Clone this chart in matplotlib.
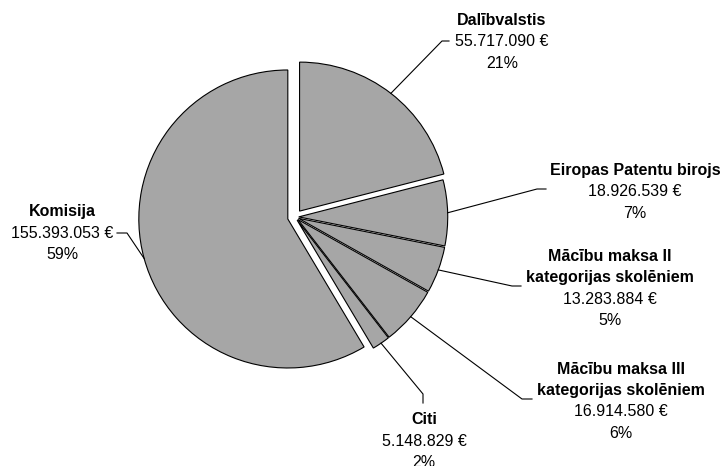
import numpy as np
import matplotlib
matplotlib.use('Agg')
import matplotlib.pyplot as plt

plt.rcParams['font.family'] = ['Liberation Sans', 'DejaVu Sans']

# data
names = ['Dalībvalstis', 'Eiropas Patentu birojs',
         'Mācību maksa II\nkategorijas skolēniem',
         'Mācību maksa III\nkategorijas skolēniem',
         'Citi', 'Komisija']
values = [55717090, 18926539, 13283884, 16914580, 5148829, 155393053]
explode = [0.05, 0.025, 0.025, 0.025, 0.025, 0.05]

# layout (pixel coords, y from top)
W, H = 724, 466
cx, cy, R = 295, 217, 149
# label anchor: centre x, y of the value line
lab_xy = [(502, 42), (635, 192), (610, 299), (621, 412), (424, 441), (62, 233)]
# leader elbow and end points
elbow = [(442, 41), (537, 189), (512, 286), (522, 399), (423, 394), (127, 233)]
lend = [(449, 41), (546, 189), (521, 286), (532, 399), (423, 403), (117, 233)]
step = 21.3
fs = 11.5

fig = plt.figure(figsize=(W / 100, H / 100), dpi=100)
ax = fig.add_axes([0, 0, 1, 1])

# pie explode is in data units, so scale by the radius
ax.pie(values, explode=[e * R for e in explode], startangle=90,
       counterclock=False, center=(cx, H - cy), radius=R,
       colors=['#a6a6a6'] * len(values),
       wedgeprops=dict(edgecolor='black', linewidth=0.8),
       frame=True)
ax.set_xlim(0, W)
ax.set_ylim(0, H)
ax.set_aspect('equal')
ax.axis('off')

total = sum(values)
start = 0.0
for i, v in enumerate(values):
    frac = v / total
    mid = (start + frac / 2) * 2 * np.pi  # clockwise from top
    start += frac
    dx, dy = np.sin(mid), np.cos(mid)
    ex = explode[i] * R
    px = cx + (ex + R) * dx
    py = (H - cy) + (ex + R) * dy
    ex_, ey_ = elbow[i]
    lx, ly = lend[i]
    ax.plot([px, ex_, lx], [py, H - ey_, H - ly], color='black', lw=0.8)

    x, y = lab_xy[i]
    val = f"{v:,}".replace(',', '.') + " €"
    pct = f"{round(frac * 100)}%"
    nlines = names[i].split('\n')
    for k, t in enumerate(nlines):
        yy = y - step * (len(nlines) - k)
        ax.text(x, H - yy, t, ha='center', va='center', fontsize=fs,
                fontweight='bold', color='black')
    ax.text(x, H - y, val, ha='center', va='center', fontsize=fs, color='black')
    ax.text(x, H - y - step, pct, ha='center', va='center', fontsize=fs,
            color='black')

fig.savefig('out.png', dpi=100)
